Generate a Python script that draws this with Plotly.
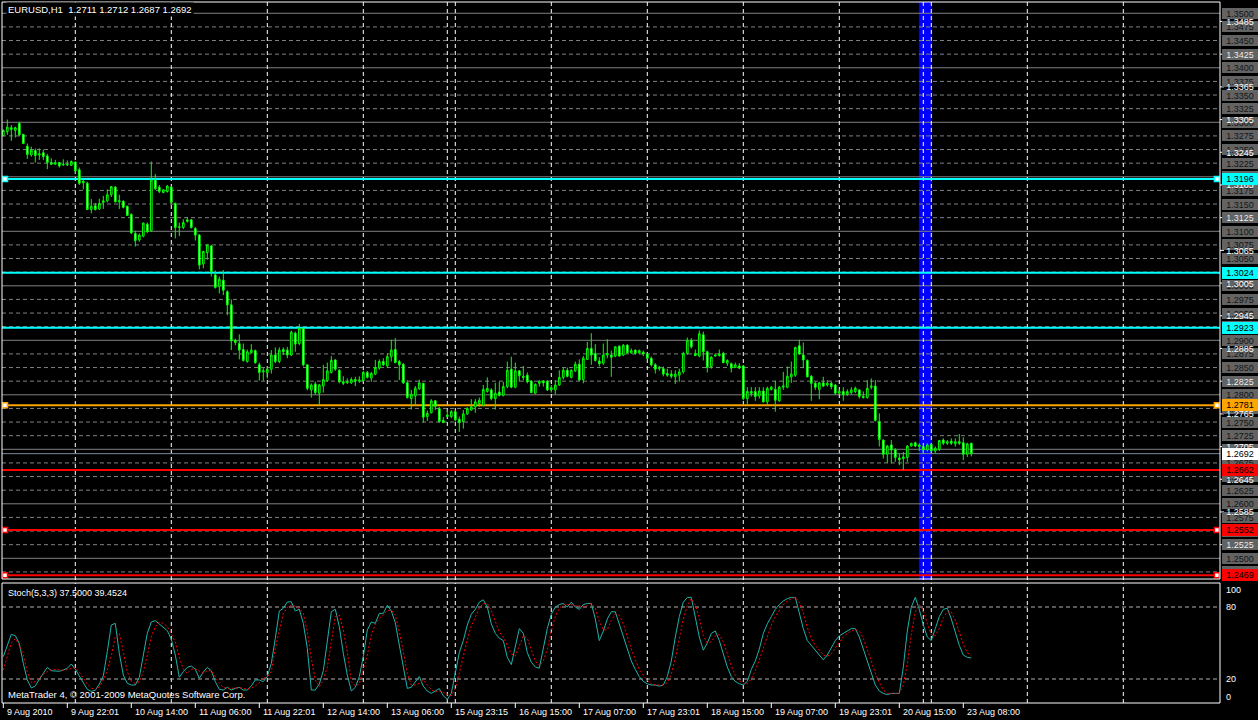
import plotly.graph_objects as go

W, H = 1258, 720

# ---------------- data (EURUSD H1) ----------------
opens = [
    1.3276, 1.3283, 1.3290, 1.3285, 1.3298, 1.3278, 1.3256, 1.3240, 1.3248, 1.3240,
    1.3244, 1.3238, 1.3226, 1.3223, 1.3226, 1.3222, 1.3223, 1.3221, 1.3227, 1.3213,
    1.3189, 1.3188, 1.3140, 1.3147, 1.3141, 1.3153, 1.3156, 1.3167, 1.3181, 1.3154,
    1.3155, 1.3146, 1.3131, 1.3096, 1.3084, 1.3091, 1.3113, 1.3101, 1.3194, 1.3181,
    1.3171, 1.3173, 1.3181, 1.3151, 1.3107, 1.3107, 1.3118, 1.3121, 1.3105, 1.3093,
    1.3040, 1.3061, 1.3073, 1.3020, 1.2999, 1.3010, 1.2989, 1.2965, 1.2900, 1.2894,
    1.2883, 1.2861, 1.2877, 1.2881, 1.2855, 1.2842, 1.2841, 1.2847, 1.2873, 1.2861,
    1.2883, 1.2882, 1.2873, 1.2913, 1.2894, 1.2922, 1.2855, 1.2809, 1.2820, 1.2803,
    1.2816, 1.2826, 1.2841, 1.2864, 1.2845, 1.2824, 1.2822, 1.2822, 1.2828, 1.2825,
    1.2826, 1.2841, 1.2831, 1.2838, 1.2849, 1.2861, 1.2853, 1.2870, 1.2883, 1.2861,
    1.2856, 1.2822, 1.2793, 1.2798, 1.2811, 1.2821, 1.2760, 1.2767, 1.2789, 1.2775,
    1.2753, 1.2760, 1.2760, 1.2769, 1.2755, 1.2751, 1.2765, 1.2772, 1.2778, 1.2784,
    1.2781, 1.2806, 1.2809, 1.2793, 1.2805, 1.2799, 1.2815, 1.2847, 1.2814, 1.2844,
    1.2834, 1.2836, 1.2825, 1.2803, 1.2821, 1.2825, 1.2825, 1.2809, 1.2809, 1.2818,
    1.2832, 1.2845, 1.2832, 1.2844, 1.2856, 1.2828, 1.2865, 1.2885, 1.2876, 1.2862,
    1.2858, 1.2873, 1.2873, 1.2871, 1.2889, 1.2873, 1.2891, 1.2877, 1.2882, 1.2877,
    1.2878, 1.2875, 1.2867, 1.2855, 1.2848, 1.2848, 1.2839, 1.2838, 1.2833, 1.2836,
    1.2842, 1.2876, 1.2900, 1.2876, 1.2871, 1.2910, 1.2879, 1.2852, 1.2871, 1.2872,
    1.2876, 1.2858, 1.2857, 1.2850, 1.2853, 1.2853, 1.2793, 1.2806, 1.2806, 1.2798,
    1.2807, 1.2787, 1.2810, 1.2810, 1.2789, 1.2814, 1.2814, 1.2833, 1.2836, 1.2890,
    1.2873, 1.2863, 1.2834, 1.2821, 1.2810, 1.2822, 1.2818, 1.2821, 1.2818, 1.2803,
    1.2806, 1.2801, 1.2804, 1.2806, 1.2809, 1.2797, 1.2795, 1.2814, 1.2816, 1.2751,
    1.2717, 1.2691, 1.2708, 1.2699, 1.2684, 1.2683, 1.2685, 1.2706, 1.2712, 1.2705,
    1.2705, 1.2699, 1.2709, 1.2697, 1.2700, 1.2717, 1.2711, 1.2715, 1.2710, 1.2714,
    1.2712, 1.2691, 1.2711,
]
highs = [
    1.3287, 1.3305, 1.3295, 1.3292, 1.3301, 1.3278, 1.3261, 1.3255, 1.3252, 1.3252,
    1.3250, 1.3242, 1.3234, 1.3231, 1.3227, 1.3232, 1.3230, 1.3230, 1.3228, 1.3217,
    1.3195, 1.3191, 1.3159, 1.3152, 1.3160, 1.3165, 1.3177, 1.3183, 1.3183, 1.3167,
    1.3157, 1.3147, 1.3133, 1.3101, 1.3096, 1.3116, 1.3116, 1.3228, 1.3205, 1.3185,
    1.3177, 1.3185, 1.3183, 1.3153, 1.3116, 1.3122, 1.3126, 1.3122, 1.3108, 1.3095,
    1.3064, 1.3075, 1.3075, 1.3028, 1.3017, 1.3029, 1.2992, 1.2975, 1.2903, 1.2911,
    1.2894, 1.2883, 1.2893, 1.2883, 1.2859, 1.2849, 1.2852, 1.2882, 1.2887, 1.2887,
    1.2887, 1.2888, 1.2918, 1.2916, 1.2930, 1.2922, 1.2855, 1.2821, 1.2824, 1.2820,
    1.2855, 1.2859, 1.2871, 1.2865, 1.2847, 1.2834, 1.2830, 1.2832, 1.2833, 1.2834,
    1.2844, 1.2844, 1.2842, 1.2864, 1.2865, 1.2867, 1.2876, 1.2901, 1.2904, 1.2864,
    1.2858, 1.2827, 1.2809, 1.2816, 1.2828, 1.2822, 1.2771, 1.2792, 1.2790, 1.2778,
    1.2759, 1.2773, 1.2772, 1.2772, 1.2760, 1.2772, 1.2777, 1.2792, 1.2792, 1.2795,
    1.2818, 1.2832, 1.2812, 1.2822, 1.2824, 1.2824, 1.2861, 1.2870, 1.2859, 1.2845,
    1.2853, 1.2841, 1.2827, 1.2821, 1.2827, 1.2827, 1.2827, 1.2818, 1.2827, 1.2845,
    1.2850, 1.2850, 1.2847, 1.2861, 1.2865, 1.2871, 1.2897, 1.2913, 1.2893, 1.2869,
    1.2894, 1.2902, 1.2881, 1.2889, 1.2891, 1.2893, 1.2893, 1.2885, 1.2883, 1.2883,
    1.2881, 1.2877, 1.2870, 1.2858, 1.2853, 1.2852, 1.2848, 1.2845, 1.2845, 1.2848,
    1.2879, 1.2905, 1.2904, 1.2883, 1.2918, 1.2916, 1.2881, 1.2871, 1.2876, 1.2883,
    1.2879, 1.2865, 1.2859, 1.2859, 1.2858, 1.2855, 1.2814, 1.2814, 1.2814, 1.2814,
    1.2814, 1.2815, 1.2816, 1.2826, 1.2816, 1.2842, 1.2852, 1.2861, 1.2888, 1.2901,
    1.2896, 1.2865, 1.2836, 1.2824, 1.2824, 1.2833, 1.2827, 1.2824, 1.2820, 1.2810,
    1.2814, 1.2810, 1.2814, 1.2815, 1.2810, 1.2806, 1.2827, 1.2830, 1.2827, 1.2766,
    1.2718, 1.2708, 1.2717, 1.2702, 1.2692, 1.2695, 1.2708, 1.2712, 1.2714, 1.2711,
    1.2708, 1.2711, 1.2711, 1.2705, 1.2717, 1.2720, 1.2717, 1.2720, 1.2720, 1.2728,
    1.2722, 1.2712, 1.2712,
]
lows = [
    1.3274, 1.3277, 1.3266, 1.3272, 1.3275, 1.3260, 1.3233, 1.3237, 1.3226, 1.3231,
    1.3231, 1.3214, 1.3222, 1.3222, 1.3217, 1.3220, 1.3220, 1.3220, 1.3206, 1.3185,
    1.3177, 1.3139, 1.3133, 1.3138, 1.3139, 1.3141, 1.3153, 1.3163, 1.3153, 1.3141,
    1.3142, 1.3128, 1.3095, 1.3072, 1.3081, 1.3089, 1.3097, 1.3099, 1.3176, 1.3170,
    1.3170, 1.3171, 1.3149, 1.3087, 1.3091, 1.3104, 1.3116, 1.3105, 1.3083, 1.3030,
    1.3032, 1.3048, 1.3017, 1.2995, 1.2986, 1.2983, 1.2946, 1.2882, 1.2891, 1.2865,
    1.2861, 1.2859, 1.2876, 1.2857, 1.2826, 1.2826, 1.2830, 1.2839, 1.2858, 1.2858,
    1.2873, 1.2867, 1.2871, 1.2879, 1.2891, 1.2852, 1.2808, 1.2795, 1.2800, 1.2781,
    1.2804, 1.2824, 1.2839, 1.2844, 1.2821, 1.2818, 1.2820, 1.2820, 1.2816, 1.2822,
    1.2824, 1.2830, 1.2824, 1.2836, 1.2846, 1.2853, 1.2849, 1.2861, 1.2858, 1.2827,
    1.2820, 1.2793, 1.2773, 1.2781, 1.2809, 1.2749, 1.2752, 1.2766, 1.2772, 1.2749,
    1.2748, 1.2759, 1.2757, 1.2751, 1.2732, 1.2738, 1.2763, 1.2771, 1.2767, 1.2778,
    1.2779, 1.2804, 1.2790, 1.2773, 1.2797, 1.2797, 1.2812, 1.2812, 1.2812, 1.2824,
    1.2827, 1.2821, 1.2803, 1.2801, 1.2815, 1.2815, 1.2807, 1.2804, 1.2801, 1.2816,
    1.2828, 1.2832, 1.2830, 1.2842, 1.2826, 1.2821, 1.2864, 1.2855, 1.2861, 1.2852,
    1.2855, 1.2867, 1.2833, 1.2869, 1.2870, 1.2871, 1.2876, 1.2875, 1.2874, 1.2875,
    1.2871, 1.2865, 1.2852, 1.2839, 1.2844, 1.2834, 1.2833, 1.2830, 1.2820, 1.2824,
    1.2839, 1.2873, 1.2885, 1.2871, 1.2869, 1.2863, 1.2841, 1.2848, 1.2870, 1.2870,
    1.2858, 1.2853, 1.2841, 1.2849, 1.2847, 1.2790, 1.2781, 1.2797, 1.2789, 1.2793,
    1.2786, 1.2781, 1.2808, 1.2769, 1.2787, 1.2809, 1.2812, 1.2822, 1.2833, 1.2873,
    1.2849, 1.2832, 1.2789, 1.2809, 1.2792, 1.2814, 1.2815, 1.2810, 1.2800, 1.2800,
    1.2789, 1.2798, 1.2801, 1.2803, 1.2793, 1.2793, 1.2793, 1.2810, 1.2751, 1.2705,
    1.2683, 1.2675, 1.2674, 1.2677, 1.2671, 1.2662, 1.2677, 1.2705, 1.2704, 1.2697,
    1.2693, 1.2696, 1.2694, 1.2693, 1.2697, 1.2708, 1.2708, 1.2708, 1.2705, 1.2708,
    1.2680, 1.2686, 1.2687,
]
closes = [
    1.3285, 1.3291, 1.3287, 1.3290, 1.3277, 1.3261, 1.3241, 1.3249, 1.3239, 1.3242,
    1.3237, 1.3226, 1.3223, 1.3226, 1.3220, 1.3223, 1.3222, 1.3228, 1.3211, 1.3188,
    1.3192, 1.3140, 1.3146, 1.3140, 1.3151, 1.3156, 1.3167, 1.3182, 1.3154, 1.3156,
    1.3144, 1.3129, 1.3097, 1.3083, 1.3093, 1.3115, 1.3099, 1.3194, 1.3178, 1.3173,
    1.3176, 1.3183, 1.3153, 1.3107, 1.3108, 1.3116, 1.3121, 1.3107, 1.3093, 1.3038,
    1.3063, 1.3075, 1.3026, 1.2997, 1.3012, 1.2992, 1.2965, 1.2899, 1.2896, 1.2882,
    1.2863, 1.2879, 1.2882, 1.2859, 1.2841, 1.2844, 1.2847, 1.2873, 1.2861, 1.2882,
    1.2879, 1.2873, 1.2915, 1.2893, 1.2922, 1.2855, 1.2812, 1.2818, 1.2804, 1.2818,
    1.2828, 1.2844, 1.2863, 1.2847, 1.2824, 1.2821, 1.2824, 1.2828, 1.2825, 1.2827,
    1.2841, 1.2832, 1.2839, 1.2850, 1.2861, 1.2855, 1.2870, 1.2882, 1.2859, 1.2855,
    1.2822, 1.2795, 1.2801, 1.2812, 1.2822, 1.2759, 1.2766, 1.2789, 1.2779, 1.2751,
    1.2749, 1.2763, 1.2769, 1.2754, 1.2749, 1.2765, 1.2775, 1.2778, 1.2787, 1.2790,
    1.2810, 1.2812, 1.2793, 1.2803, 1.2799, 1.2815, 1.2845, 1.2814, 1.2844, 1.2835,
    1.2832, 1.2824, 1.2804, 1.2819, 1.2825, 1.2822, 1.2809, 1.2813, 1.2818, 1.2832,
    1.2845, 1.2834, 1.2845, 1.2856, 1.2827, 1.2867, 1.2885, 1.2873, 1.2863, 1.2857,
    1.2873, 1.2876, 1.2869, 1.2888, 1.2871, 1.2891, 1.2877, 1.2881, 1.2876, 1.2881,
    1.2875, 1.2867, 1.2855, 1.2847, 1.2850, 1.2838, 1.2836, 1.2834, 1.2838, 1.2842,
    1.2876, 1.2900, 1.2888, 1.2872, 1.2912, 1.2879, 1.2850, 1.2869, 1.2873, 1.2875,
    1.2859, 1.2863, 1.2849, 1.2855, 1.2849, 1.2793, 1.2806, 1.2803, 1.2797, 1.2807,
    1.2787, 1.2812, 1.2814, 1.2790, 1.2814, 1.2816, 1.2834, 1.2838, 1.2887, 1.2875,
    1.2864, 1.2833, 1.2821, 1.2814, 1.2822, 1.2816, 1.2821, 1.2815, 1.2803, 1.2806,
    1.2800, 1.2806, 1.2809, 1.2812, 1.2797, 1.2795, 1.2812, 1.2816, 1.2753, 1.2718,
    1.2691, 1.2706, 1.2699, 1.2685, 1.2681, 1.2686, 1.2706, 1.2711, 1.2706, 1.2708,
    1.2699, 1.2708, 1.2697, 1.2702, 1.2716, 1.2711, 1.2714, 1.2711, 1.2714, 1.2711,
    1.2691, 1.2710, 1.2692,
]

stoch_k = [
    38.6, 48.3, 57.2, 56.1, 49.7, 33.1, 19.2, 12.5, 14.2, 19.7,
    24.7, 29.7, 26.9, 26.9, 26.4, 27.5, 28.9, 32.5, 28.1, 22.5,
    16.9, 11.4, 9.7, 10.6, 15.8, 22.5, 42.8, 65.0, 66.4, 41.4,
    23.3, 16.4, 15.0, 15.0, 21.4, 38.6, 58.1, 67.5, 68.6, 65.8,
    63.1, 60.3, 53.1, 40.0, 21.4, 26.1, 29.7, 30.8, 28.1, 20.6,
    25.8, 29.7, 26.9, 17.8, 11.4, 10.8, 13.1, 10.8, 12.2, 13.1,
    10.8, 10.8, 14.2, 19.2, 19.2, 17.8, 22.0, 33.1, 53.9, 76.7,
    78.9, 84.2, 84.4, 76.7, 78.1, 66.4, 45.6, 10.8, 10.8, 15.8,
    26.9, 49.7, 76.1, 78.1, 63.6, 41.4, 23.3, 10.0, 13.1, 22.0,
    38.6, 60.8, 67.5, 66.4, 74.7, 74.7, 81.4, 76.7, 66.9, 48.3,
    29.7, 12.2, 13.1, 17.8, 22.0,
    14, 10, 8, 10, 12, 6, 3, 8, 25, 42,
    52, 65, 74, 78, 84, 86, 80, 66, 58, 54,
    52, 38, 32, 48, 62, 58, 42, 34, 30, 29,
    45, 62, 74, 80, 82, 83, 80, 84, 80, 78,
    82, 83, 83, 70, 52, 60, 70, 76, 76, 66,
    55, 45, 35, 28, 22, 18, 16, 15, 15, 14,
    15, 22, 35, 55, 72, 84, 88, 88, 70, 55,
    44, 50, 58, 60, 52, 40, 30, 22, 18, 16,
    15, 18, 28, 35, 45, 58, 66, 72, 78, 82,
    85, 87, 88, 88, 75, 62, 52, 48, 44, 40,
    36, 40, 46, 52, 56, 58, 60, 62, 62, 55,
    45, 35, 25, 15, 10, 8, 7, 8, 8, 8,
    30, 60, 80, 88, 78, 65, 55, 52, 62, 72,
    78, 79, 70, 58, 48, 40, 38, 37.5,
]
stoch_d = [
    27.5, 40.0, 50.3, 53.6, 48.3, 40.0, 26.1, 16.9, 17.8, 20.6,
    24.2, 26.1, 27.8, 28.1, 27.5, 27.2, 27.8, 28.9, 29.4, 25.6,
    21.1, 15.8, 12.5, 10.8, 13.3, 19.2, 27.5, 39.2, 55.3, 58.1,
    42.8, 26.1, 18.3, 16.4, 17.8, 26.1, 40.0, 55.3, 63.6, 67.5,
    66.4, 63.6, 57.5, 50.8, 38.1, 28.1, 24.7, 28.1, 28.6, 26.4,
    24.7, 26.9, 26.9, 22.0, 16.4, 13.1, 12.2, 12.2, 12.5, 12.8,
    12.2, 11.4, 12.5, 14.2, 16.9, 20.6, 22.0, 26.1, 45.6, 60.8,
    74.7, 79.7, 81.7, 80.6, 78.9, 74.7, 59.4, 37.2, 19.2, 13.6,
    19.2, 29.7, 51.1, 72.0, 73.3, 60.8, 42.8, 17.8, 14.2, 15.8,
    28.1, 40.0, 56.7, 65.8, 70.6, 73.3, 77.0, 77.5, 73.3, 59.4,
    42.8, 24.7, 15.0, 15.0, 16.4,
    19, 15, 11, 9, 10, 9, 7, 6, 12, 25,
    40, 53, 64, 72, 79, 83, 83, 77, 68, 59,
    55, 48, 41, 39, 47, 56, 54, 45, 35, 31,
    35, 45, 60, 72, 79, 82, 82, 82, 81, 81,
    80, 81, 83, 79, 68, 61, 61, 69, 74, 73,
    66, 55, 45, 36, 28, 23, 19, 16, 15, 15,
    15, 17, 24, 37, 54, 70, 81, 87, 82, 71,
    56, 50, 51, 56, 57, 51, 41, 31, 23, 19,
    16, 16, 20, 27, 36, 46, 56, 65, 72, 77,
    82, 85, 87, 88, 84, 75, 63, 54, 48, 44,
    40, 39, 41, 46, 51, 55, 58, 60, 61, 60,
    54, 45, 35, 25, 17, 11, 8, 8, 8, 8,
    15, 33, 57, 76, 82, 77, 66, 57, 56, 62,
    71, 76, 76, 69, 59, 49, 42, 39.45,
]

time_tick_bars = [0, 16, 32, 48, 64, 80, 96, 112, 128, 144, 160, 176, 192, 208, 224, 240]
time_tick_labels = ["9 Aug 2010", "9 Aug 22:01", "10 Aug 14:00", "11 Aug 06:00", "11 Aug 22:01",
                    "12 Aug 14:00", "13 Aug 06:00", "15 Aug 23:15", "16 Aug 15:00", "17 Aug 07:00",
                    "17 Aug 23:01", "18 Aug 15:00", "19 Aug 07:00", "19 Aug 23:01", "20 Aug 15:00",
                    "23 Aug 08:00"]
time_grid_bars = [18, 42, 66, 90, 111, 113, 137, 161, 185, 209, 230, 232, 256, 280]

price_axis_ticks = [1.2525, 1.2585, 1.2645, 1.2705, 1.2765, 1.2825, 1.2885, 1.2945, 1.3005,
                    1.3065, 1.3125, 1.3185, 1.3245, 1.3305, 1.3365, 1.3425, 1.3485]
grid_step_levels = [round(1.2475 + 0.0025 * j, 4) for j in range(42)]  # 1.2475 .. 1.3500

level_prices = [1.3196, 1.3024, 1.2923, 1.2781, 1.2662, 1.2552, 1.2469]
level_colors = ["#00FFFF", "#00FFFF", "#00FFFF", "#FFA500", "#FF0000", "#FF0000", "#FF0000"]
level_marked = [True, False, False, True, False, True, True]
bid_price = 1.2692
highlight_bars = [228.9, 232.2]

stoch_levels = [20, 80]
stoch_axis_labels = ["100", "80", "20", "0"]

# ---------------- geometry ----------------
X_DOM = [2 / W, 1220 / W]
Y_MAIN = [1 - 580 / H, 1 - 2 / H]
Y_STO = [1 - 703 / H, 1 - 583 / H]
X_RANGE = [-0.325, 304.175]
Y_RANGE = [1.24602, 1.35207]

FONT = "Liberation Sans"
fig = go.Figure()

fig.add_trace(go.Candlestick(
    x=list(range(len(closes))), open=opens, high=highs, low=lows, close=closes,
    increasing=dict(line=dict(color="#00FF00", width=1), fillcolor="#000000"),
    decreasing=dict(line=dict(color="#00FF00", width=1), fillcolor="#FFFFFF"),
    whiskerwidth=0, hoverinfo="skip", xaxis="x", yaxis="y", showlegend=False))

# end markers on level lines
mx, my, mc = [], [], []
for p, c, m in zip(level_prices, level_colors, level_marked):
    if m:
        for xi in (0.425, 303.4):
            mx.append(xi); my.append(p); mc.append(c)
fig.add_trace(go.Scatter(x=mx, y=my, mode="markers", xaxis="x", yaxis="y",
                         marker=dict(symbol="square", size=5, color="#FFFFFF",
                                     line=dict(color=mc, width=1.5)),
                         hoverinfo="skip", showlegend=False))

fig.add_trace(go.Scatter(x=list(range(len(stoch_k))), y=stoch_k, mode="lines",
                         line=dict(color="#20B2AA", width=1), xaxis="x2", yaxis="y2",
                         hoverinfo="skip", showlegend=False))
fig.add_trace(go.Scatter(x=list(range(len(stoch_d))), y=stoch_d, mode="lines",
                         line=dict(color="#FF0000", width=1, dash="2px,2px"), xaxis="x2", yaxis="y2",
                         hoverinfo="skip", showlegend=False))

shapes = []
# blue highlight band
shapes.append(dict(type="rect", xref="x", yref="y domain", x0=highlight_bars[0], x1=highlight_bars[1],
                   y0=0, y1=1, fillcolor="#0000FF", line=dict(width=0), layer="below"))
# price grid
for p in grid_step_levels:
    solid = round(p * 10000) % 100 == 0
    shapes.append(dict(type="line", xref="x domain", yref="y", x0=0, x1=1, y0=p, y1=p,
                       line=dict(color="#808080", width=1, dash="solid" if solid else "4px,3px"),
                       layer="below"))
# time grid
for b in time_grid_bars:
    for yr in ("y domain", "y2 domain"):
        shapes.append(dict(type="line", xref="x", yref=yr, x0=b, x1=b, y0=0, y1=1,
                           line=dict(color="#FFFFFF", width=1, dash="4px,3px"), layer="below"))
# stoch levels
for v in stoch_levels:
    shapes.append(dict(type="line", xref="x2 domain", yref="y2", x0=0, x1=1, y0=v, y1=v,
                       line=dict(color="#B0B0B0", width=1, dash="4px,3px"), layer="below"))
# bid line
shapes.append(dict(type="line", xref="x domain", yref="y", x0=0, x1=1, y0=bid_price, y1=bid_price,
                   line=dict(color="#778899", width=1), layer="below"))
# level lines
for p, c in zip(level_prices, level_colors):
    shapes.append(dict(type="line", xref="x domain", yref="y", x0=0, x1=1, y0=p, y1=p,
                       line=dict(color=c, width=2), layer="below"))
# panel borders
for y0, y1 in ((2, 579), (583, 703)):
    shapes.append(dict(type="rect", xref="paper", yref="paper", x0=2 / W, x1=1220 / W,
                       y0=1 - y1 / H, y1=1 - y0 / H, line=dict(color="#FFFFFF", width=1),
                       fillcolor="rgba(0,0,0,0)", layer="above"))
# price axis tick marks
for p in price_axis_ticks:
    shapes.append(dict(type="line", xref="paper", yref="y", x0=1220 / W, x1=1224 / W, y0=p, y1=p,
                       line=dict(color="#FFFFFF", width=1)))
# time axis tick marks
for b in time_tick_bars:
    shapes.append(dict(type="line", xref="x", yref="paper", x0=b, x1=b, y0=1 - 703 / H, y1=1 - 708 / H,
                       line=dict(color="#FFFFFF", width=1)))

ann = []
# grey grid labels
for p in grid_step_levels:
    ann.append(dict(xref="paper", yref="y", x=1222 / W, y=p, xanchor="left", yanchor="middle",
                    text=f"{p:.4f}", showarrow=False, width=36, height=11, borderpad=0, borderwidth=0,
                    bgcolor="#636363", font=dict(family=FONT, size=9, color="#141414")))
# white price axis labels
for p in price_axis_ticks:
    ann.append(dict(xref="paper", yref="y", x=1222 / W, y=p, xanchor="left", yanchor="middle",
                    text=f"{p:.4f}", showarrow=False, width=36, height=11, borderpad=0, borderwidth=0,
                    font=dict(family=FONT, size=9, color="#FFFFFF")))
# coloured level labels
for p, c in list(zip(level_prices, level_colors)) + [(bid_price, "#FFFFFF")]:
    ann.append(dict(xref="paper", yref="y", x=1222 / W, y=p, xanchor="left", yanchor="middle",
                    text=f"{p:.4f}", showarrow=False, width=36, height=12, borderpad=0, borderwidth=0,
                    bgcolor=c, font=dict(family=FONT, size=9, color="#000000")))
# stoch axis labels
for t, py in zip(stoch_axis_labels, (590, 607, 679, 697)):
    ann.append(dict(xref="paper", yref="paper", x=1224 / W, y=1 - py / H, xanchor="left", yanchor="middle",
                    text=t, showarrow=False, font=dict(family=FONT, size=9, color="#FFFFFF")))
# time labels
for b, t in zip(time_tick_bars, time_tick_labels):
    ann.append(dict(xref="x", yref="paper", x=b + 0.5, y=1 - 712 / H, xanchor="left", yanchor="middle",
                    text=t, showarrow=False, font=dict(family=FONT, size=9, color="#FFFFFF")))
# texts
ann.append(dict(xref="paper", yref="paper", x=6 / W, y=1 - 10 / H, xanchor="left", yanchor="middle",
                text="EURUSD,H1  1.2711 1.2712 1.2687 1.2692", showarrow=False, bgcolor="#000000",
                borderpad=1, font=dict(family=FONT, size=9.5, color="#FFFFFF")))
ann.append(dict(xref="paper", yref="paper", x=6 / W, y=1 - 593 / H, xanchor="left", yanchor="middle",
                text="Stoch(5,3,3) 37.5000 39.4524", showarrow=False,
                font=dict(family=FONT, size=9, color="#FFFFFF")))
ann.append(dict(xref="paper", yref="paper", x=6 / W, y=1 - 694 / H, xanchor="left", yanchor="middle",
                text="MetaTrader 4, © 2001-2009 MetaQuotes Software Corp.", showarrow=False,
                font=dict(family=FONT, size=9.5, color="#FFFFFF")))

axis_off = dict(visible=False, showgrid=False, zeroline=False, fixedrange=True)
fig.update_layout(
    width=W, height=H, margin=dict(l=0, r=0, t=0, b=0),
    paper_bgcolor="#000000", plot_bgcolor="#000000", showlegend=False,
    boxgap=0.4,
    xaxis=dict(domain=X_DOM, range=X_RANGE, anchor="y", rangeslider=dict(visible=False), **axis_off),
    yaxis=dict(domain=Y_MAIN, range=Y_RANGE, anchor="x", **axis_off),
    xaxis2=dict(domain=X_DOM, range=X_RANGE, anchor="y2", matches="x", **axis_off),
    yaxis2=dict(domain=Y_STO, range=[0, 100], anchor="x2", **axis_off),
    shapes=shapes, annotations=ann,
)
fig.write_html("out.html", config={"displayModeBar": False},
               post_script="document.body.style.margin='0';document.body.style.overflow='hidden';"
                           "document.body.style.background='#000';")
